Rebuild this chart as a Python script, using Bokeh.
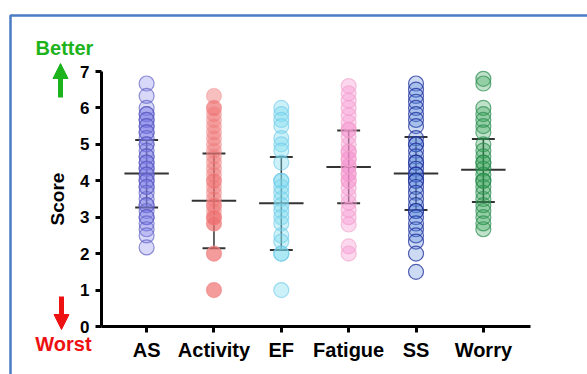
from bokeh.plotting import figure
from bokeh.models import Range1d, FixedTicker, Label, Arrow, NormalHead, BoxAnnotation
from bokeh.embed import file_html
from bokeh.resources import INLINE

categories = ["AS", "Activity", "EF", "Fatigue", "SS", "Worry"]

as_vals = [6.67, 6.33, 6.0, 5.83, 5.83, 5.67, 5.67, 5.5, 5.5, 5.33, 5.33, 5.17, 5.0, 5.0,
           4.83, 4.67, 4.67, 4.5, 4.5, 4.33, 4.33, 4.17, 4.17, 4.0, 4.0, 3.83, 3.83, 3.67,
           3.5, 3.33, 3.33, 3.17, 3.0, 3.0, 2.83, 2.67, 2.5, 2.17]
activity_vals = [6.33, 6.0, 6.0, 5.83, 5.67, 5.5, 5.33, 5.17, 5.0, 4.83, 4.67, 4.5, 4.33,
                 4.17, 4.0, 4.0, 3.83, 3.67, 3.5, 3.33, 3.33, 3.17, 3.0, 3.0, 3.0, 2.83,
                 2.83, 2.0, 2.0, 1.0, 1.0]
ef_vals = [6.0, 5.83, 5.67, 5.5, 5.17, 5.0, 4.83, 4.5, 4.0, 4.0, 3.83, 3.67, 3.5, 3.33,
           3.17, 3.0, 2.83, 2.5, 2.33, 2.0, 2.0, 1.0]
fatigue_vals = [6.6, 6.4, 6.2, 6.0, 5.8, 5.6, 5.4, 5.4, 5.2, 5.0, 4.8, 4.8, 4.6, 4.6, 4.4,
                4.4, 4.2, 4.2, 4.0, 4.0, 3.8, 3.6, 3.4, 3.2, 3.0, 2.8, 2.2, 2.0]
ss_vals = [6.67, 6.5, 6.33, 6.17, 6.0, 5.83, 5.67, 5.5, 5.17, 5.0, 5.0, 4.83, 4.67, 4.5,
           4.5, 4.33, 4.17, 4.17, 4.0, 4.0, 3.83, 3.67, 3.5, 3.33, 3.17, 3.17, 3.0, 2.83,
           2.67, 2.5, 2.33, 2.0, 1.5]
worry_vals = [6.8, 6.67, 6.0, 5.83, 5.67, 5.5, 5.33, 5.0, 4.83, 4.67, 4.5, 4.5, 4.33, 4.17,
              4.0, 4.0, 3.83, 3.67, 3.5, 3.33, 3.17, 3.0, 2.83, 2.67]

means = [4.2, 3.45, 3.38, 4.38, 4.2, 4.3]
sd_upper = [5.12, 4.75, 4.65, 5.38, 5.2, 5.15]
sd_lower = [3.27, 2.15, 2.1, 3.38, 3.2, 3.42]

y_ticks = [0, 1, 2, 3, 4, 5, 6, 7]

groups = [as_vals, activity_vals, ef_vals, fatigue_vals, ss_vals, worry_vals]
fills = ["#7f7fe8", "#f07070", "#7fdcf0", "#f590d0", "#5585dc", "#30a050"]
fill_alphas = [0.3, 0.45, 0.4, 0.35, 0.3, 0.3]
lines = ["#5a5ac0", "#f09090", "#6cc8e8", "#f0a0c8", "#1f2f9a", "#2a8a50"]
line_alphas = [0.65, 0.45, 0.6, 0.6, 0.75, 0.7]

FONT = "Liberation Sans"
W, H = 587, 374

# layout: page pixel positions of the axis box
AX_L, AX_R, AX_T, AX_B = 101, 530, 71, 326
X0, X1 = 0.33, 6.70          # x data at axis left / right
Y0, Y1 = 0, 7                # y data at axis bottom / top
sx = (AX_R - AX_L) / (X1 - X0)
sy = (AX_B - AX_T) / (Y1 - Y0)

def dx(page_x):
    return X0 + (page_x - AX_L) / sx

def dy(page_y):
    return Y0 + (AX_B - page_y) / sy

p = figure(width=W, height=H, output_backend="svg", toolbar_location=None,
           x_range=Range1d(dx(0), dx(W)), y_range=Range1d(dy(H), dy(0)),
           min_border_left=0, min_border_right=0, min_border_top=0, min_border_bottom=0)
p.outline_line_color = None
p.grid.visible = False
p.background_fill_color = "white"
p.border_fill_color = "white"

# axes
xs = list(range(1, len(categories) + 1))
p.xaxis.ticker = FixedTicker(ticks=xs)
p.xaxis.major_label_overrides = {i: c for i, c in zip(xs, categories)}
p.xaxis.fixed_location = Y0
p.xaxis.bounds = (X0, X1)
p.yaxis.ticker = FixedTicker(ticks=y_ticks)
p.yaxis.fixed_location = X0
p.yaxis.bounds = (Y0, Y1)
p.yaxis.axis_label = "Score"
for ax in (p.xaxis, p.yaxis):
    ax.axis_line_width = 3
    ax.axis_line_color = "black"
    ax.major_tick_line_width = 3
    ax.major_tick_line_color = "black"
    ax.major_tick_out = 6
    ax.major_tick_in = 0
    ax.minor_tick_line_color = None
    ax.major_label_text_font = FONT
    ax.major_label_text_font_style = "bold"
    ax.major_label_text_color = "black"
p.xaxis.major_label_text_font_size = "20px"
p.yaxis.major_label_text_font_size = "17px"
p.xaxis.major_label_standoff = 6
p.yaxis.major_label_standoff = 6
p.yaxis.axis_label_text_font = FONT
p.yaxis.axis_label_text_font_style = "bold"
p.yaxis.axis_label_text_font_size = "19px"
p.yaxis.axis_label_text_color = "black"
p.yaxis.axis_label_standoff = 9

# blue frame
p.add_layout(BoxAnnotation(left=dx(10), right=dx(W + 20), top=dy(15), bottom=dy(H + 20),
                           fill_alpha=0, line_color="#4a7bc4", line_alpha=1.0,
                           line_width=2.5, level="underlay"))

# mean and SD bars
for i, (m, hi, lo) in enumerate(zip(means, sd_upper, sd_lower)):
    x = xs[i]
    p.segment(x0=[x], y0=[lo], x1=[x], y1=[hi], line_color="#333333", line_width=1.5)
    p.segment(x0=[x - 0.33], y0=[m], x1=[x + 0.33], y1=[m], line_color="#333333", line_width=2)
    p.segment(x0=[x - 0.17, x - 0.17], y0=[hi, lo], x1=[x + 0.17, x + 0.17], y1=[hi, lo],
              line_color="#333333", line_width=2)

# points
for i, vals in enumerate(groups):
    p.scatter(x=[xs[i]] * len(vals), y=vals, size=15,
              fill_color=fills[i], fill_alpha=fill_alphas[i],
              line_color=lines[i], line_alpha=line_alphas[i], line_width=1.2)

p.add_layout(Label(x=dx(64), y=dy(47), text="Better", text_font=FONT, text_font_style="bold",
                   text_font_size="20px", text_color="#1db31d", text_align="center",
                   text_baseline="middle"))
p.add_layout(Label(x=dx(63), y=dy(343), text="Worst", text_font=FONT, text_font_style="bold",
                   text_font_size="20px", text_color="#ee1111", text_align="center",
                   text_baseline="middle"))
p.add_layout(Arrow(x_start=dx(60), y_start=dy(97), x_end=dx(60), y_end=dy(63),
                   line_color="#1db31d", line_width=5,
                   end=NormalHead(size=15, fill_color="#1db31d", line_color="#1db31d")))
p.add_layout(Arrow(x_start=dx(61), y_start=dy(296), x_end=dx(61), y_end=dy(329),
                   line_color="#ee1111", line_width=5,
                   end=NormalHead(size=15, fill_color="#ee1111", line_color="#ee1111")))

open("out.html", "w").write(file_html(p, INLINE))
